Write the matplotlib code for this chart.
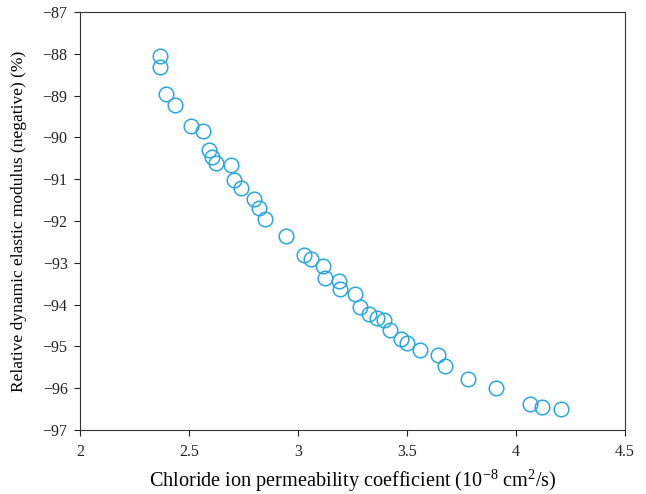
import numpy as np
import matplotlib
matplotlib.use("Agg")
import matplotlib.pyplot as plt

plt.rcParams['font.family'] = ['Liberation Serif', 'DejaVu Serif']
plt.rcParams['mathtext.fontset'] = 'custom'
plt.rcParams['mathtext.rm'] = 'Liberation Serif'
plt.rcParams['mathtext.it'] = 'Liberation Serif:italic'

# chloride ion permeability coefficient (10^-8 cm2/s)
perm = [2.367, 2.367, 2.394, 2.436, 2.509, 2.564, 2.592, 2.606, 2.624, 2.693,
        2.706, 2.739, 2.798, 2.821, 2.849, 2.945, 3.028, 3.060, 3.115, 3.124,
        3.188, 3.193, 3.261, 3.284, 3.326, 3.362, 3.394, 3.422, 3.472, 3.500,
        3.560, 3.642, 3.674, 3.780, 3.908, 4.064, 4.119, 4.206]
# relative dynamic elastic modulus (negative, %)
modulus = [-88.06, -88.32, -88.97, -89.23, -89.73, -89.85, -90.31, -90.47, -90.62, -90.66,
           -91.02, -91.21, -91.47, -91.69, -91.95, -92.36, -92.81, -92.91, -93.07, -93.36,
           -93.43, -93.62, -93.74, -94.05, -94.22, -94.32, -94.36, -94.60, -94.82, -94.91,
           -95.08, -95.20, -95.48, -95.77, -95.99, -96.37, -96.44, -96.51]

fig = plt.figure(figsize=(6.46, 4.94), dpi=100)
ax = fig.add_axes([0.124, 0.1296, 0.8437, 0.846])

ax.plot(perm, modulus, linestyle='none', marker='o', markersize=10.5,
        markerfacecolor='none', markeredgecolor='#2aa7e1', markeredgewidth=1.1)

ax.set_xlim(2, 4.5)
ax.set_ylim(-97, -87)
ax.set_xticks([2, 2.5, 3, 3.5, 4, 4.5])
ax.set_xticklabels(['2', '2.5', '3', '3.5', '4', '4.5'])
ax.set_yticks(range(-97, -86))
ax.tick_params(direction='out', length=4, width=0.8, labelsize=11.5, colors='#222222')
ax.tick_params(axis='x', pad=6)
ax.tick_params(axis='y', pad=5)
for s in ax.spines.values():
    s.set_linewidth(0.8)
    s.set_color('#333333')

ax.set_xlabel('Chloride ion permeability coefficient (10$^{-8}$ cm$^{2}$/s)', fontsize=14.6, labelpad=6)
ax.set_ylabel('Relative dynamic elastic modulus (negative) (%)', fontsize=12.5, labelpad=11)

fig.savefig('out.png', dpi=100)
